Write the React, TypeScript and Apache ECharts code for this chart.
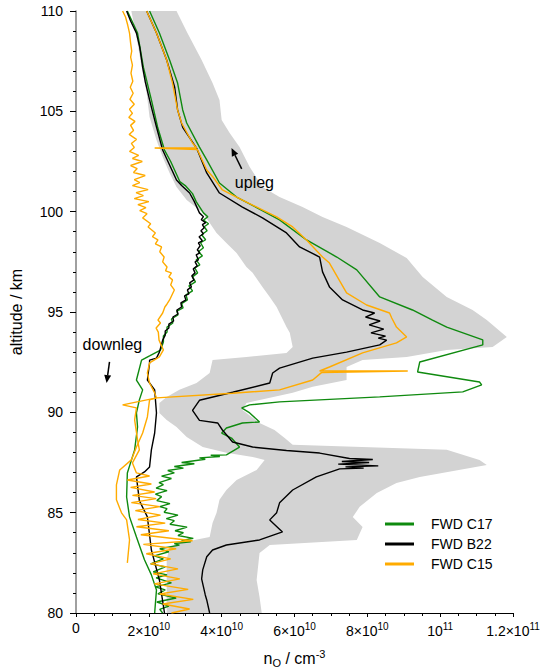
import React, { useEffect, useRef } from "react";
import * as echarts from "echarts";

const FONT = '"Liberation Sans", Arial, Helvetica, sans-serif';

// x tick labels: mantissa part and superscript exponent (x axis in units of 1e10 cm^-3)
const xTickBase = ["0", "2×10", "4×10", "6×10", "8×10", "10", "1.2×10"];
const xTickExp = ["", "10", "10", "10", "10", "11", "11"];

const legendNames = ["FWD C17", "FWD B22", "FWD C15"];

// Grey envelope: [n (1e10 cm^-3), altitude km]
const bandRight = [
  [2.76, 110], [3.06, 108.9], [3.45, 107.56], [3.75, 106.41], [3.94, 105.57], [4.0, 104.57],
  [4.22, 103.92], [4.49, 103.22], [4.77, 102.23], [5.12, 101.23], [5.59, 100.73], [6.22, 100.23],
  [6.77, 99.74], [7.43, 99.24], [8.34, 98.44], [9.08, 97.69], [9.52, 96.75], [10.18, 95.75],
  [10.89, 95.1], [11.28, 94.6], [11.83, 93.76], [11.44, 93.26], [10.18, 93.11], [9.08, 92.76],
  [7.87, 92.61], [7.43, 92.26], [7.43, 91.61], [6.5, 91.27], [5.95, 90.97], [4.68, 90.47],
  [4.57, 90.12], [5.04, 89.47], [5.45, 89.12], [5.73, 88.72], [5.95, 88.38], [10.18, 88.13],
  [11.08, 87.63], [11.28, 87.38], [9.44, 86.78], [8.8, 86.48], [8.26, 85.98], [7.79, 85.29],
  [7.6, 84.79], [7.87, 84.29], [7.71, 83.64], [5.32, 83.39], [5.04, 82.99], [4.96, 81.65],
  [5.04, 80.8], [5.1, 80.0],
];
const bandLeft = [
  [1.52, 110], [1.69, 108.41], [1.8, 107.21], [1.94, 105.91], [2.02, 104.72], [2.21, 103.57],
  [2.38, 102.73], [2.57, 101.93], [2.76, 101.23], [3.04, 100.58], [3.48, 99.94], [3.86, 98.94],
  [4.13, 98.44], [4.41, 97.94], [4.68, 97.24], [4.85, 96.95], [5.12, 96.25], [5.32, 95.75],
  [5.51, 95.25], [5.59, 94.95], [5.78, 94.25], [5.87, 93.96], [5.95, 93.26], [5.78, 92.96],
  [4.68, 92.76], [3.75, 92.61], [3.67, 91.96], [3.31, 91.46], [2.84, 91.12], [2.49, 90.77],
  [2.29, 90.47], [2.29, 89.97], [2.49, 89.62], [2.76, 89.27], [3.04, 88.77], [3.48, 88.27],
  [4.13, 87.98], [4.85, 87.78], [5.18, 87.63], [4.96, 87.13], [4.41, 86.63], [4.13, 86.13],
  [3.94, 85.64], [3.86, 84.99], [3.75, 84.49], [3.67, 83.79], [2.84, 83.49], [2.57, 83.29],
  [2.49, 82.65], [2.49, 81.65], [2.49, 80.65], [2.49, 80.0],
];

// FWD C17
const c17Up = [
  [2.02, 110], [2.29, 108.9], [2.57, 107.56], [2.79, 106.41], [2.93, 105.07], [3.04, 104.42],
  [3.39, 103.22], [3.59, 102.58], [3.94, 101.43], [4.41, 100.73], [5.23, 99.94], [5.59, 99.59],
  [6.33, 98.59], [7.16, 97.74], [7.71, 97.1], [8.34, 95.75], [9.24, 95.1], [9.79, 94.6],
  [10.18, 94.25], [11.17, 93.61], [11.17, 93.36], [9.44, 92.51], [9.38, 92.01], [11.08, 91.51],
  [11.14, 91.37], [10.62, 91.02], [8.34, 90.77], [5.59, 90.52], [4.77, 90.37], [4.55, 90.22],
  [4.77, 89.97], [5.04, 89.52], [4.57, 89.47], [4.13, 89.22], [4.0, 88.97], [4.27, 88.72],
  [4.49, 88.27], [4.13, 87.88], [3.7, 87.86], [3.95, 87.8], [3.39, 87.73], [3.55, 87.66],
  [2.9, 87.5], [3.25, 87.44], [2.7, 87.3], [2.95, 87.22], [2.52, 87.1], [2.7, 86.98],
  [2.35, 86.82], [2.62, 86.7], [2.28, 86.5], [2.4, 86.4], [2.2, 86.22], [2.5, 86.1],
  [2.18, 85.92], [2.35, 85.8], [2.22, 85.6], [2.58, 85.45], [2.3, 85.3], [2.5, 85.2],
  [2.42, 85.02], [2.8, 84.88], [2.48, 84.7], [2.7, 84.6], [2.58, 84.42], [3.05, 84.28],
  [2.72, 84.1], [2.95, 84.0], [2.8, 83.86], [3.22, 83.72], [2.9, 83.62], [3.15, 83.55],
  [2.7, 83.46], [2.84, 83.38], [2.3, 83.2], [2.55, 83.05], [2.15, 82.85], [2.4, 82.7],
  [2.05, 82.45], [2.45, 82.3], [2.12, 82.05], [2.5, 81.9], [2.2, 81.75], [2.62, 81.5],
  [2.18, 81.3], [2.45, 81.15], [2.25, 80.95], [2.75, 80.75], [2.22, 80.55], [2.55, 80.35],
  [2.3, 80.18], [2.38, 80.0],
];
const c17Down = [
  [1.41, 110], [1.69, 108.9], [1.85, 107.2], [2.07, 105.57], [2.24, 104.22], [2.43, 103.07],
  [2.6, 102.5], [2.85, 101.5], [3.0, 101.3], [3.2, 100.9], [3.3, 100.5], [3.5, 99.94],
  [3.62, 99.75], [3.5, 99.58], [3.64, 99.4], [3.52, 99.25], [3.6, 99.05], [3.45, 98.85],
  [3.56, 98.6], [3.42, 98.45], [3.5, 98.2], [3.36, 98.0], [3.47, 97.8], [3.3, 97.6],
  [3.4, 97.35], [3.26, 97.2], [3.34, 96.95], [3.2, 96.75], [3.28, 96.5], [3.1, 96.3],
  [3.2, 96.05], [3.02, 95.85], [3.06, 95.6], [2.9, 95.42], [2.94, 95.2], [2.77, 95.05],
  [2.8, 94.85], [2.62, 94.65], [2.66, 94.45], [2.5, 94.25], [2.5, 94.0], [2.4, 93.8],
  [2.4, 93.5], [2.32, 93.1], [2.02, 92.81],
  [1.8, 92.6], [1.66, 91.61], [1.83, 91.12], [1.74, 90.62], [1.66, 89.97], [1.69, 89.27],
  [1.61, 88.13], [1.41, 86.98], [1.39, 85.78], [1.47, 84.79], [1.66, 83.79], [1.88, 82.65],
  [2.07, 81.9], [2.21, 81.15], [2.16, 80.0],
];

// FWD B22
const b22Up = [
  [1.94, 110], [2.21, 108.9], [2.49, 107.56], [2.71, 106.2], [2.79, 105.07], [2.93, 104.2],
  [3.31, 103.17], [3.59, 101.93], [3.94, 100.93], [4.57, 100.23], [5.12, 99.69], [5.78, 98.94],
  [6.14, 98.24], [6.69, 97.74], [6.77, 97.0], [6.96, 96.25], [7.32, 95.6], [7.87, 95.1],
  [8.2, 94.95], [7.95, 94.75], [8.35, 94.55], [8.05, 94.36], [8.45, 94.15], [8.1, 93.96],
  [8.5, 93.8], [8.3, 93.7], [8.53, 93.6], [8.34, 93.36], [7.43, 93.0], [6.5, 92.7],
  [5.59, 92.2], [5.4, 91.96], [5.32, 91.46], [4.3, 91.0], [3.39, 90.6], [3.2, 90.1],
  [3.39, 89.6], [3.89, 89.47], [4.02, 89.12], [4.3, 88.52], [4.85, 88.27], [5.78, 88.1],
  [6.69, 87.97], [7.51, 87.7], [8.15, 87.65], [7.3, 87.55], [8.05, 87.5], [7.2, 87.42],
  [8.3, 87.33], [7.4, 87.28], [7.9, 87.22], [7.24, 87.18], [6.6, 86.78], [5.95, 86.13],
  [5.59, 85.49], [5.51, 85.0], [5.32, 84.64], [5.67, 84.04], [5.04, 83.64], [4.13, 83.39],
  [3.75, 83.14], [3.59, 82.8], [3.48, 82.15], [3.45, 81.7], [3.5, 81.3], [3.55, 80.9],
  [3.59, 80.65], [3.67, 80.0],
];
const b22Down = [
  [1.39, 110], [1.5, 109.5], [1.66, 108.9], [1.75, 108.2], [1.83, 107.2], [1.9, 106.5],
  [2.02, 105.57], [2.1, 105.0], [2.21, 104.22], [2.38, 103.07], [2.5, 102.6], [2.76, 101.58],
  [2.9, 101.3], [3.12, 100.93], [3.25, 100.5], [3.39, 99.94], [3.5, 99.75], [3.44, 99.6],
  [3.56, 99.45], [3.47, 99.35], [3.52, 99.2], [3.43, 99.05], [3.5, 98.9], [3.38, 98.75],
  [3.47, 98.55], [3.36, 98.45], [3.41, 98.3], [3.33, 98.1], [3.4, 97.95], [3.3, 97.85],
  [3.36, 97.6], [3.27, 97.5], [3.33, 97.3], [3.22, 97.15], [3.27, 96.95], [3.18, 96.8],
  [3.24, 96.6], [3.12, 96.45], [3.17, 96.25], [3.06, 96.1], [3.1, 95.9], [2.98, 95.8],
  [3.02, 95.6], [2.88, 95.45], [2.9, 95.25], [2.77, 95.1], [2.8, 94.9], [2.66, 94.75],
  [2.68, 94.55], [2.55, 94.4], [2.55, 94.2], [2.45, 94.05], [2.45, 93.85], [2.38, 93.6],
  [2.29, 93.0], [2.21, 92.7], [2.02, 92.6], [2.02, 92.46], [1.96, 91.61], [2.16, 91.12],
  [2.21, 89.97], [2.16, 88.97], [2.07, 88.13], [2.02, 87.28], [1.88, 87.03], [1.66, 86.78],
  [1.74, 85.6], [1.96, 84.79], [2.07, 83.14], [2.29, 81.65], [2.43, 80.0],
];

// FWD C15
const c15Up = [
  [1.94, 110], [2.21, 108.9], [2.49, 107.56], [2.65, 106.41], [2.79, 105.07], [2.9, 104.42],
  [3.2, 103.42], [3.31, 103.17], [2.16, 103.17], [3.33, 103.1], [3.59, 102.08], [3.76, 101.73],
  [4.02, 101.08], [4.68, 100.48], [5.51, 99.74], [5.95, 99.24], [6.33, 98.59], [6.77, 97.74],
  [6.96, 97.44], [7.43, 95.95], [7.98, 95.35], [8.61, 94.95], [8.67, 94.7], [8.8, 94.25],
  [9.08, 93.76], [8.8, 93.46], [7.87, 92.96], [6.96, 92.26], [6.69, 92.06], [9.11, 92.06],
  [6.74, 91.98], [6.5, 91.61], [5.59, 91.12], [4.3, 90.95], [2.21, 90.72], [2.02, 90.62],
  [1.96, 89.77], [1.83, 88.97], [1.66, 88.27], [1.52, 87.63], [1.2, 87.13], [1.11, 86.38],
  [1.11, 85.64], [1.25, 84.99], [1.39, 84.64], [1.47, 83.64], [1.41, 82.5],
];
const c15Down = [
  [1.28, 110], [1.36, 109.7], [1.42, 109.3], [1.47, 108.9], [1.5, 108.4], [1.53, 108.0],
  [1.5, 107.7], [1.55, 107.3], [1.51, 106.9], [1.56, 106.5], [1.49, 106.2], [1.57, 105.9],
  [1.48, 105.6], [1.6, 105.35], [1.47, 105.1], [1.55, 104.9], [1.45, 104.7], [1.62, 104.5],
  [1.5, 104.3], [1.58, 104.05], [1.46, 103.85], [1.66, 103.6], [1.52, 103.4], [1.6, 103.2],
  [1.47, 103.0], [1.72, 102.8], [1.55, 102.65], [1.82, 102.5], [1.5, 102.3], [1.68, 102.15],
  [1.58, 101.95], [1.9, 101.8], [1.6, 101.6], [1.75, 101.45], [1.55, 101.3], [1.98, 101.1],
  [1.65, 100.95], [1.85, 100.8], [1.6, 100.65], [2.0, 100.5], [1.7, 100.35], [1.92, 100.2],
  [1.75, 100.05], [1.95, 99.9], [1.83, 99.69], [2.05, 99.4], [1.98, 99.24], [2.18, 98.94],
  [2.1, 98.75], [2.25, 98.59], [2.18, 98.4], [2.35, 98.24], [2.3, 98.0], [2.42, 97.74],
  [2.38, 97.5], [2.5, 97.24], [2.46, 97.05], [2.62, 96.95], [2.55, 96.75], [2.65, 96.6],
  [2.6, 96.35], [2.7, 96.1], [2.57, 95.6], [2.5, 95.4], [2.44, 95.25], [2.38, 94.95],
  [2.25, 94.6], [2.32, 94.45], [2.2, 94.2], [2.26, 94.0], [2.28, 93.6], [2.4, 93.11],
  [2.29, 92.76], [2.02, 92.46], [1.96, 91.96], [2.02, 91.46], [2.16, 90.97], [2.21, 90.72],
  [1.28, 90.37], [1.66, 90.22], [1.61, 89.62], [1.69, 88.63], [1.74, 88.13], [1.55, 87.48],
  [1.66, 86.98], [2.02, 86.83], [1.41, 86.63], [2.07, 86.43], [1.5, 86.26], [2.16, 86.03],
  [1.55, 85.86], [2.2, 85.7], [1.52, 85.5], [2.3, 85.3], [1.63, 85.1], [2.32, 84.88],
  [1.7, 84.66], [2.45, 84.48], [1.66, 84.3], [2.55, 84.1], [1.78, 83.9], [3.2, 83.6],
  [1.85, 83.42], [2.75, 83.2], [1.93, 82.95], [2.6, 82.7], [2.05, 82.45], [2.8, 82.2],
  [2.12, 81.95], [2.85, 81.7], [2.15, 81.45], [3.08, 81.18], [2.3, 80.95], [3.22, 80.68],
  [2.38, 80.45], [3.12, 80.2], [2.62, 80.0],
];

// annotation anchors in data coordinates
const uplegLabel = [4.9, 101.43];
const uplegArrow = [[4.55, 102.13], [4.27, 103.17]];
const downlegLabel = [1.0, 93.36];
const downlegArrow = [[0.92, 92.51], [0.84, 91.46]];

const GREEN = "#0f8a0f";
const BLACK = "#000000";
const ORANGE = "#ffab00";

export default function App() {
  const ref = useRef<HTMLDivElement>(null);
  useEffect(() => {
    const chart = echarts.init(ref.current!, null, { renderer: "svg" });
    const line = (name: string, data: number[][], color: string) => ({
      name,
      type: "line",
      data,
      showSymbol: false,
      symbol: "none",
      color,
      itemStyle: { color },
      lineStyle: { color, width: 1.4 },
      silent: true,
      z: 3,
    });
    const option: any = {
      animation: false,
      grid: { left: 76, right: 35, top: 11, bottom: 54, outerBoundsMode: "none", containLabel: false },
      legend: {
        data: legendNames,
        orient: "vertical",
        left: 380,
        top: 512,
        icon: "rect",
        itemWidth: 29,
        itemHeight: 3,
        itemGap: 6,
        formatter: "{t|{name}}",
        textStyle: {
          fontFamily: FONT,
          fontSize: 14,
          color: "#000",
          rich: { t: { fontFamily: FONT, fontSize: 14, color: "#000", padding: [0, 0, 0, 12], lineHeight: 15 } },
        },
      },
      xAxis: {
        type: "value",
        min: 0,
        max: 12,
        interval: 2,
        name: "{n|n}{sub|O}{n| / cm}{sup|-3}",
        nameLocation: "middle",
        nameGap: 35,
        nameTextStyle: {
          rich: {
            n: { fontFamily: FONT, fontSize: 16, color: "#000" },
            sub: { fontFamily: FONT, fontSize: 11, color: "#000", padding: [8, 0, 0, 0] },
            sup: { fontFamily: FONT, fontSize: 11, color: "#000", padding: [0, 0, 10, 0] },
          },
        },
        splitLine: { show: false },
        axisLine: { lineStyle: { color: "#000", width: 1 } },
        axisTick: { show: true, length: 4, lineStyle: { color: "#000" } },
        minorTick: { show: true, splitNumber: 4, length: 3, lineStyle: { color: "#000" } },
        axisLabel: {
          margin: 8,
          formatter: (v: number) => {
            const i = Math.round(v / 2);
            return xTickExp[i] ? `{b|${xTickBase[i]}}{s|${xTickExp[i]}}` : `{b|${xTickBase[i]}}`;
          },
          rich: {
            b: { fontFamily: FONT, fontSize: 14, color: "#000" },
            s: { fontFamily: FONT, fontSize: 10, color: "#000", padding: [0, 0, 9, 0] },
          },
        },
      },
      yAxis: {
        type: "value",
        min: 80,
        max: 110,
        interval: 5,
        offset: 4,
        name: "altitude / km",
        nameLocation: "middle",
        nameGap: 48,
        nameRotate: 90,
        nameTextStyle: { fontFamily: FONT, fontSize: 16, color: "#000" },
        splitLine: { show: false },
        axisLine: { lineStyle: { color: "#808080", width: 1.5 } },
        axisTick: { show: true, length: 6, lineStyle: { color: "#000" } },
        minorTick: { show: true, splitNumber: 5, length: 3, lineStyle: { color: "#000" } },
        axisLabel: { margin: 9, fontFamily: FONT, fontSize: 14, color: "#000" },
      },
      series: [
        {
          type: "custom",
          name: "envelope",
          silent: true,
          z: 1,
          data: [[0, 80]],
          encode: { x: 0, y: 1 },
          renderItem: (_p: any, api: any) => {
            const pts = bandRight
              .map((d) => api.coord(d))
              .concat(bandLeft.slice().reverse().map((d) => api.coord(d)));
            return { type: "polygon", shape: { points: pts }, style: { fill: "#d3d3d3" } };
          },
        },
        line("C17 downleg", c17Down, GREEN),
        line("FWD C17", c17Up, GREEN),
        line("B22 downleg", b22Down, BLACK),
        line("FWD B22", b22Up, BLACK),
        line("C15 downleg", c15Down, ORANGE),
        line("FWD C15", c15Up, ORANGE),
      ],
    };
    chart.setOption(option);

    const px = (d: number[]) => chart.convertToPixel({ gridIndex: 0 }, d) as number[];
    const arrow = (tail: number[], head: number[]) => {
      const t = px(tail);
      const h = px(head);
      const dx = h[0] - t[0];
      const dy = h[1] - t[1];
      const len = Math.hypot(dx, dy);
      const ux = dx / len;
      const uy = dy / len;
      const L = 8;
      const W = 3.5;
      const bx = h[0] - ux * L;
      const by = h[1] - uy * L;
      return [
        { type: "line", z: 100, shape: { x1: t[0], y1: t[1], x2: bx, y2: by }, style: { stroke: "#000", lineWidth: 1.5 } },
        {
          type: "polygon",
          z: 100,
          shape: { points: [h, [bx - uy * W, by + ux * W], [bx + uy * W, by - ux * W]] },
          style: { fill: "#000" },
        },
      ];
    };
    const up = px(uplegLabel);
    const dn = px(downlegLabel);
    chart.setOption({
      graphic: [
        {
          type: "text",
          z: 100,
          x: up[0],
          y: up[1],
          style: { text: "upleg", fontFamily: FONT, fontSize: 16, fill: "#000", align: "center", verticalAlign: "middle" },
        },
        {
          type: "text",
          z: 100,
          x: dn[0],
          y: dn[1],
          style: { text: "downleg", fontFamily: FONT, fontSize: 16, fill: "#000", align: "center", verticalAlign: "middle" },
        },
        ...arrow(uplegArrow[0], uplegArrow[1]),
        ...arrow(downlegArrow[0], downlegArrow[1]),
      ],
    });
    return () => chart.dispose();
  }, []);
  return <div ref={ref} style={{ position: "absolute", left: 0, top: 0, width: 548, height: 667 }} />;
}
